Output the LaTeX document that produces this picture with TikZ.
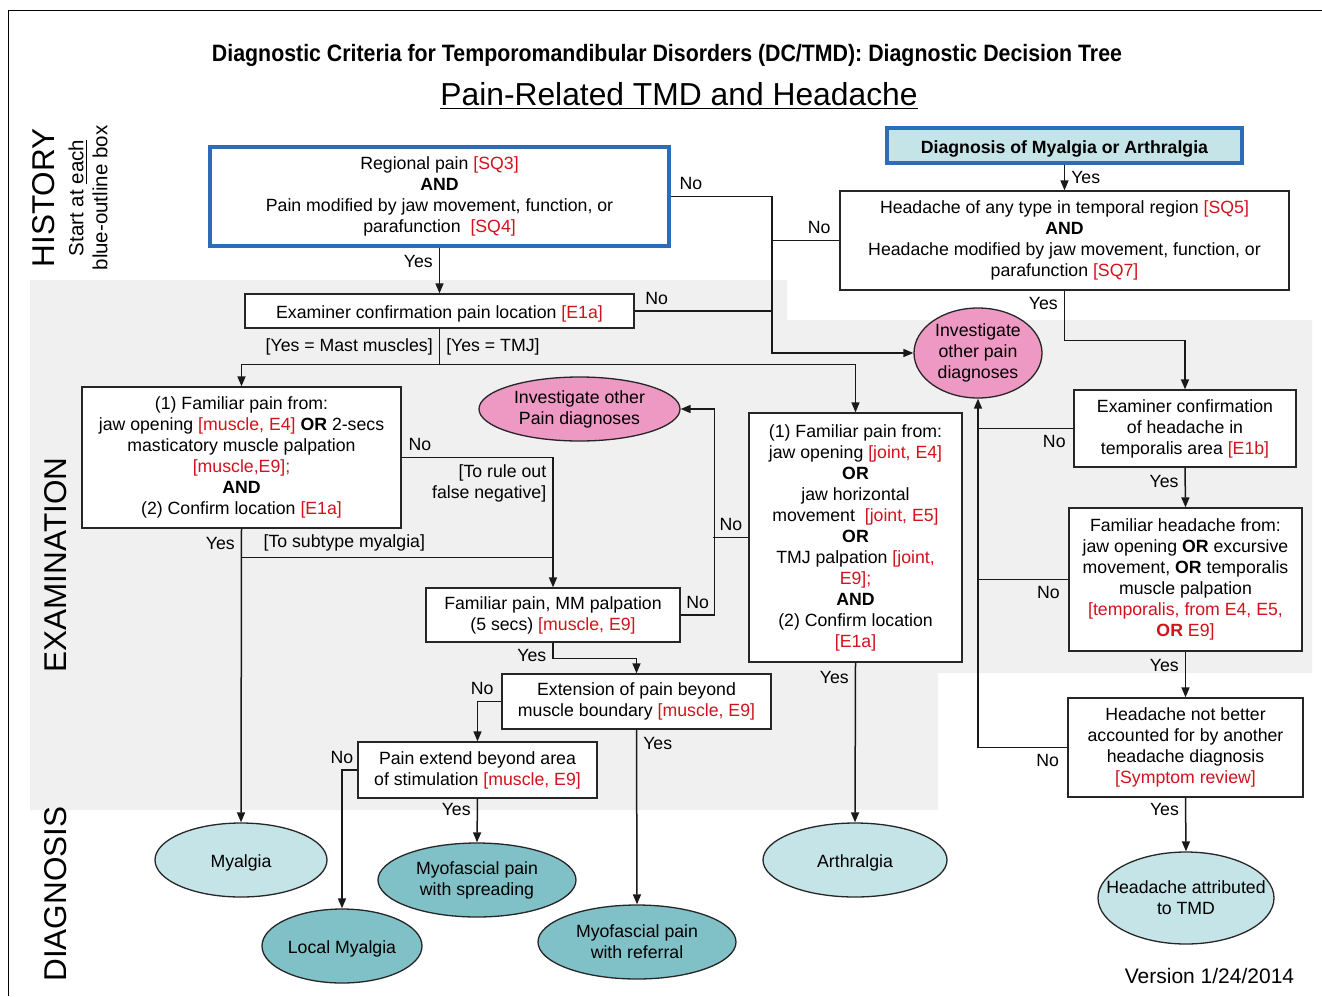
\documentclass[tikz,border=0pt]{standalone}
\usepackage{fontspec}
\setmainfont{Liberation Sans}
\newfontfamily\titlefont[FakeStretch=0.9]{Liberation Sans}
\usepackage{graphicx}
\usetikzlibrary{shapes.geometric,arrows.meta}

\newcommand{\bodyfont}{\fontsize{8.85pt}{10.5pt}\selectfont}
\newcommand{\srcref}[1]{\textcolor{refred}{#1}}

\begin{document}
\begin{tikzpicture}[x=0.5pt,y=-0.5pt]
  % Local definitions
  \def\px{0.5pt}

  % Colors
  \definecolor{refred}{RGB}{210,18,28}
  \definecolor{startblue}{RGB}{44,108,184}
  \definecolor{examgrey}{RGB}{240,240,240}
  \definecolor{otherpink}{RGB}{238,152,196}
  \definecolor{lightteal}{RGB}{197,228,232}
  \definecolor{darkteal}{RGB}{128,192,199}

  % Styles
  \tikzstyle{box}=[draw=black!85,line width=0.65pt,fill=white,inner sep=0pt,align=center,font=\bodyfont,
    execute at begin node={\rule{0pt}{9.4pt}}]
  \tikzstyle{start box}=[box,draw=startblue,line width=1.6pt]
  \tikzstyle{dx node}=[ellipse,draw=black!85,line width=0.65pt,inner sep=0pt,align=center,font=\bodyfont,
    execute at begin node={\rule{0pt}{9.4pt}}]
  \tikzstyle{other dx}=[dx node,fill=otherpink]
  \tikzstyle{light dx}=[dx node,fill=lightteal]
  \tikzstyle{dark dx}=[dx node,fill=darkteal]
  \tikzstyle{flow}=[draw=black!90,line width=0.75pt]
  \tikzstyle{flow arrow}=[flow,-{Triangle[length=5pt,width=4pt]}]
  \tikzstyle{answer}=[font=\bodyfont,inner sep=3pt]
  \tikzstyle{phase}=[rotate=90,inner sep=0pt]

  \useasboundingbox (0,0) rectangle (1322,996);

  % Frame and examination band
  \draw[line width=0.5pt] (8,996) -- (8,10) -- (1322,10);
  \fill[examgrey] (30,280) -- (787,280) -- (787,320) -- (1312,320) -- (1312,673)
    -- (938,673) -- (938,810) -- (30,810) -- cycle;

  % Titles
  \node (title) at (667,55)
    {\resizebox{455pt}{!}{\titlefont\bfseries Diagnostic Criteria for Temporomandibular Disorders (DC/TMD): Diagnostic Decision Tree}};
  \node[font=\fontsize{15.9pt}{18pt}\selectfont] (subtitle) at (679,96)
    {\underline{Pain-Related TMD and Headache}};

  % Phases
  \node[phase,font=\fontsize{15.75pt}{18pt}\selectfont] (history) at (44,198) {HISTORY};
  \node[phase,align=center,font=\fontsize{10.25pt}{12pt}\selectfont] (hint) at (88,198)
    {Start at \underline{each}\\blue-outline box};
  \node[phase,font=\fontsize{15.75pt}{18pt}\selectfont] (examination) at (56,565) {EXAMINATION};
  \node[phase,font=\fontsize{15.75pt}{18pt}\selectfont] (diagnosis) at (56,894) {DIAGNOSIS};

  % History
  \node[start box,minimum width=459*\px,minimum height=99*\px] (regional) at (439.5,196.5)
    {Regional pain \srcref{[SQ3]}\\\textbf{AND}\\Pain modified by jaw movement, function, or\\parafunction~ \srcref{[SQ4]}};
  \node[start box,fill=lightteal,minimum width=355*\px,minimum height=35*\px] (dxboth) at (1064.5,145.5)
    {\textbf{Diagnosis of Myalgia or Arthralgia}};
  \node[box,minimum width=449*\px,minimum height=99*\px] (headache) at (1064.5,240.5)
    {Headache of any type in temporal region \srcref{[SQ5]}\\\textbf{AND}\\Headache modified by jaw movement, function, or\\parafunction \srcref{[SQ7]}};

  % Examination
  \node[box,minimum width=389*\px,minimum height=34*\px] (location) at (439.5,311)
    {Examiner confirmation pain location \srcref{[E1a]}};
  \node[other dx,minimum width=128*\px,minimum height=90*\px] (otherA) at (978,353)
    {Investigate\\other pain\\diagnoses};
  \node[box,minimum width=319*\px,minimum height=141*\px] (muscle) at (241.5,457.5)
    {(1) Familiar pain from:\\jaw opening \srcref{[muscle, E4]} \textbf{OR} 2-secs\\masticatory muscle palpation\\\srcref{[muscle,E9];}\\\textbf{AND}\\(2) Confirm location \srcref{[E1a]}};
  \node[other dx,minimum width=201*\px,minimum height=64*\px] (otherB) at (579.5,409)
    {Investigate other\\Pain diagnoses};
  \node[box,minimum width=213*\px,minimum height=249*\px] (joint) at (855.5,537.5)
    {(1) Familiar pain from:\\jaw opening \srcref{[joint, E4]}\\\textbf{OR}\\jaw horizontal\\movement~ \srcref{[joint, E5]}\\\textbf{OR}\\TMJ palpation \srcref{[joint,}\\\srcref{E9];}\\\textbf{AND}\\(2) Confirm location\\\srcref{[E1a]}};
  \node[box,minimum width=222*\px,minimum height=77*\px] (temporalis) at (1185,428.5)
    {Examiner confirmation\\of headache in\\temporalis area \srcref{[E1b]}};
  \node[box,minimum width=233*\px,minimum height=143*\px] (famhead) at (1185.5,579.5)
    {Familiar headache from:\\jaw opening \textbf{OR} excursive\\movement, \textbf{OR} temporalis\\muscle palpation\\\srcref{[temporalis, from E4, E5,}\\\srcref{\textbf{OR} E9]}};
  \node[box,minimum width=254*\px,minimum height=54*\px] (mmpalp) at (553,615)
    {Familiar pain, MM palpation\\(5 secs) \srcref{[muscle, E9]}};
  \node[box,minimum width=269*\px,minimum height=55*\px] (boundary) at (636.5,701.5)
    {Extension of pain beyond\\muscle boundary \srcref{[muscle, E9]}};
  \node[box,minimum width=235*\px,minimum height=99*\px] (notbetter) at (1185.5,747.5)
    {Headache not better\\accounted for by another\\headache diagnosis\\\srcref{[Symptom review]}};
  \node[box,minimum width=239*\px,minimum height=56*\px] (stimarea) at (477.5,770)
    {Pain extend beyond area\\of stimulation \srcref{[muscle, E9]}};

  % Diagnosis
  \node[light dx,minimum width=172*\px,minimum height=74*\px] (myalgia) at (241,860) {Myalgia};
  \node[dark dx,minimum width=198*\px,minimum height=74*\px] (spreading) at (477,880)
    {Myofascial pain\\with spreading};
  \node[dark dx,minimum width=160*\px,minimum height=74*\px] (localmy) at (342,946) {Local Myalgia};
  \node[dark dx,minimum width=198*\px,minimum height=74*\px] (referral) at (637,942)
    {Myofascial pain\\with referral};
  \node[light dx,minimum width=184*\px,minimum height=74*\px] (arthralgia) at (855,860) {Arthralgia};
  \node[light dx,minimum width=176*\px,minimum height=92*\px] (tmdhead) at (1186,898)
    {\makebox[0pt]{Headache attributed}\\\makebox[0pt]{to TMD}};

  \node[font=\fontsize{10.5pt}{12pt}\selectfont] (version) at (1209.5,976) {Version 1/24/2014};

  % Connectors
  \coordinate (nobus) at (772,353);
  \draw[flow arrow] (regional.east) -| node[answer,above,pos=0.1] {No} (nobus) -- (otherA.west);
  \draw[flow] (headache.west) -- node[answer,above,pos=0.3] {No} (headache.west -| nobus);
  \draw[flow] (location.east) -- node[answer,above,pos=0.16] {No} (location.east -| nobus);
  \draw[flow arrow] (regional.south) -- node[answer,left,pos=0.3] {Yes} (location.north);
  \draw[flow arrow] (dxboth.south) -- node[answer,right] {Yes} (headache.north);
  \draw[flow arrow] (headache.south) -- node[answer,left,pos=0.25] {Yes} ++(0,50) -| (temporalis.north);

  \draw[flow] (location.south) -- node[answer,left] {[Yes = Mast muscles]}
    node[answer,right] {[Yes = TMJ]} ++(0,36) coordinate (split);
  \draw[flow arrow] (split) -| (muscle.north);
  \draw[flow arrow] (split) -| (joint.north);

  \draw[flow arrow] (muscle.east) -| node[answer,above,pos=0.06] {No}
    node[answer,anchor=north east,align=right] {[To rule out\\false negative]} (mmpalp.north);
  \draw[flow arrow] (muscle.south) -- node[answer,left,pos=0.05] {Yes} (myalgia.north);
  \path (muscle.south) ++(0,29) coordinate (subtype);
  \draw[flow] (subtype) -- node[answer,above,pos=0.33] {[To subtype myalgia]} (subtype -| mmpalp.north);

  \draw[flow arrow] (mmpalp.east) -- node[answer,above] {No} ++(34,0) |- (otherB.east);
  \draw[flow] (joint.west) -- node[answer,above] {No} ++(-35,0);
  \draw[flow arrow] (mmpalp.south) -- node[answer,left,pos=0.8] {Yes} ++(0,16) -| (boundary.north);
  \draw[flow arrow] (boundary.west) -| node[answer,above,pos=0.4] {No} (stimarea.north);
  \draw[flow arrow] (boundary.south) -- node[answer,right,pos=0.08] {Yes} (referral.north);
  \draw[flow arrow] (stimarea.west) -| node[answer,above] {No} (localmy.north);
  \draw[flow arrow] (stimarea.south) -- node[answer,left,pos=0.25] {Yes} (spreading.north);
  \draw[flow arrow] (joint.south) -- node[answer,left,pos=0.09] {Yes} (arthralgia.north);

  \draw[flow arrow] (notbetter.west) -- node[answer,below,pos=0.22] {No}
    (notbetter.west -| otherA.south) -- (otherA.south);
  \draw[flow] (temporalis.west) -- node[answer,below,pos=0.2] {No} (temporalis.west -| otherA.south);
  \draw[flow] (famhead.west) -- node[answer,below,pos=0.22] {No} (famhead.west -| otherA.south);
  \draw[flow arrow] (temporalis.south) -- node[answer,left,pos=0.34] {Yes} (famhead.north);
  \draw[flow arrow] (famhead.south) -- node[answer,left,pos=0.3] {Yes} (notbetter.north);
  \draw[flow arrow] (notbetter.south) -- node[answer,left,pos=0.22] {Yes} (tmdhead.north);
\end{tikzpicture}
\end{document}
